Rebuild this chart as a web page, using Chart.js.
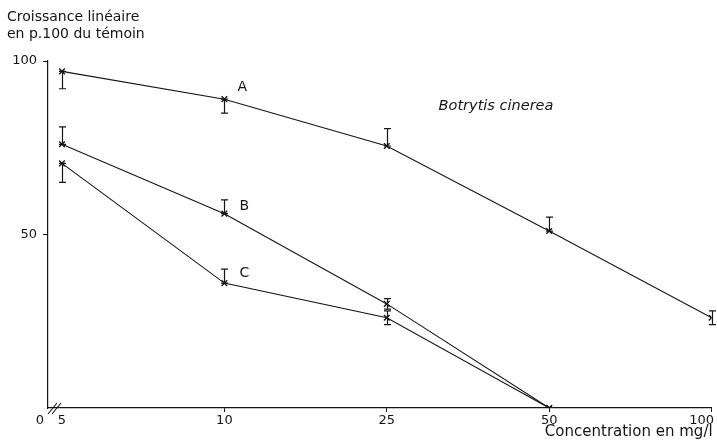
<!DOCTYPE html>
<html>
<head>
<meta charset="utf-8">
<script src="https://cdn.jsdelivr.net/npm/chart.js@4/dist/chart.umd.min.js"></script>
<style>
  body { margin: 0; background: #fff; }
  #chart { display: block; }
</style>
</head>
<body>
<canvas id="chart" width="717" height="440"></canvas>
<script>
// concentrations (mg/l), placed at even steps like the original drawing
const concentrations = ['5', '10', '25', '50', '100'];
const yTicks = [50, 100];

// croissance linéaire en p.100 du témoin
const seriesA = [97, 89, 75.5, 51, 26];
const seriesB = [76, 56, 30, 0];
const seriesC = [70.5, 36, 26, 0];

// error bars (low / high)
const errLowA = [92, 85, 75.5, 51, 24];
const errHighA = [97, 89, 80.5, 55, 28];
const errLowB = [76, 56, 28.5, null];
const errHighB = [81, 60, 31.5, null];
const errLowC = [65, 36, 24, null];
const errHighC = [70.5, 40, 28, null];

const ink = '#151515';
const fontFam = '"DejaVu Sans", sans-serif';

function toPoints(arr) {
	return arr.map((v, i) => ({ x: i, y: v }));
}

function makeSet(name, values, lo, hi) {
	return {
		label: name,
		data: toPoints(values),
		errLow: lo,
		errHigh: hi,
		borderColor: ink,
		borderWidth: 1.1,
		pointStyle: 'crossRot',
		pointRadius: 4,
		pointBorderWidth: 1.4,
		pointBorderColor: ink,
		pointBackgroundColor: ink,
		fill: false,
		tension: 0
	};
}

const annotations = {
	id: 'annotations',
	afterDatasetsDraw(chart) {
		const c = chart.ctx;
		const xs = chart.scales.x;
		const ys = chart.scales.y;
		c.save();
		c.strokeStyle = ink;
		c.lineWidth = 1.2;
		// error bars
		chart.data.datasets.forEach(ds => {
			ds.errLow.forEach((lo, i) => {
				const hi = ds.errHigh[i];
				if (lo == null) return;
				const px = Math.round(xs.getPixelForValue(i)) + 0.5;
				const y1 = ys.getPixelForValue(lo);
				const y2 = ys.getPixelForValue(hi);
				c.beginPath();
				c.moveTo(px, y1); c.lineTo(px, y2);
				c.moveTo(px - 3.5, y1); c.lineTo(px + 3.5, y1);
				c.moveTo(px - 3.5, y2); c.lineTo(px + 3.5, y2);
				c.stroke();
			});
		});

		// axis break near origin
		const bx = xs.getPixelForValue(xs.min) + 6;
		const by = ys.getPixelForValue(0);
		c.lineWidth = 1.1;
		c.beginPath();
		c.moveTo(bx - 6, by + 6); c.lineTo(bx + 3, by - 5);
		c.moveTo(bx - 2, by + 6); c.lineTo(bx + 7, by - 5);
		c.stroke();

		c.fillStyle = ink;
		c.textBaseline = 'middle';
		c.font = '13px ' + fontFam;
		c.textAlign = 'center';
		c.fillText('0', xs.getPixelForValue(xs.min) - 8, by + 13);

		// x tick labels (kept inside the canvas at the right edge)
		concentrations.forEach((lab, i) => {
			const w = c.measureText(lab).width;
			const px = Math.min(xs.getPixelForValue(i), chart.width - w / 2 - 3);
			c.fillText(lab, px, by + 13);
		});

		// series labels
		c.font = '14px ' + fontFam;
		c.textAlign = 'left';
		c.fillText('A', xs.getPixelForValue(1) + 13, ys.getPixelForValue(seriesA[1]) - 12);
		c.fillText('B', xs.getPixelForValue(1) + 15, ys.getPixelForValue(seriesB[1]) - 7);
		c.fillText('C', xs.getPixelForValue(1) + 15, ys.getPixelForValue(seriesC[1]) - 10);

		// axis titles
		c.fillText('Croissance linéaire', 7, 17);
		c.fillText('en p.100 du témoin', 7, 34);
		c.font = '15px ' + fontFam;
		c.textAlign = 'right';
		c.fillText('Concentration en mg/l', xs.right + 1, by + 24);

		c.font = 'italic 14.5px ' + fontFam;
		c.textAlign = 'center';
		c.fillText('Botrytis cinerea', 496, 106);
		c.restore();
	}
};

const chart = new Chart(document.getElementById('chart').getContext('2d'), {
	type: 'line',
	data: {
		datasets: [
			makeSet('A', seriesA, errLowA, errHighA),
			makeSet('B', seriesB, errLowB, errHighB),
			makeSet('C', seriesC, errLowC, errHighC)
		]
	},
	options: {
		responsive: false,
		animation: false,
		layout: { padding: { left: 0, right: 5, top: 61, bottom: 0 } },
		plugins: {
			legend: { display: false },
			tooltip: { enabled: false }
		},
		scales: {
			x: {
				type: 'linear',
				min: -0.086,
				max: 4,
				afterBuildTicks: s => { s.ticks = concentrations.map((_, i) => ({ value: i })); },
				afterFit: s => { s.height = 32; s.paddingLeft = 0; s.paddingRight = 0; },
				ticks: { display: false },
				grid: {
					drawOnChartArea: false,
					tickLength: 4,
					color: ctx => (ctx.tick && ctx.tick.value === 0) ? 'rgba(0,0,0,0)' : ink
				},
				border: { color: ink, width: 1.2 }
			},
			y: {
				min: 0,
				max: 100,
				afterBuildTicks: s => { s.ticks = yTicks.map(v => ({ value: v })); },
				afterFit: s => { s.width = 48; },
				ticks: {
					color: ink,
					font: { family: fontFam, size: 13 },
					padding: 6
				},
				grid: { drawOnChartArea: false, tickLength: 5, color: ink },
				border: { color: ink, width: 1.2 }
			}
		}
	},
	plugins: [annotations]
});
</script>
</body>
</html>
